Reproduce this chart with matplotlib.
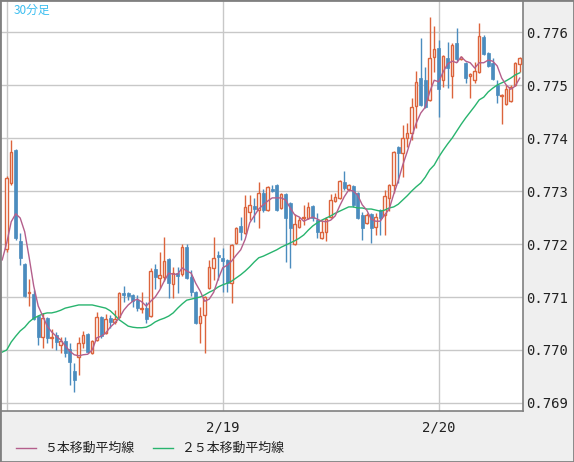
import numpy as np
import matplotlib.pyplot as plt
from matplotlib.lines import Line2D
from matplotlib.patches import Rectangle

# 30-minute candles, index 0 = 2/18 00:00, 48 = 2/19, 96 = 2/20
opens = [0.77191, 0.77315, 0.77377, 0.77206, 0.77162, 0.77108, 0.77106, 0.77064, 0.77025, 0.77060,
         0.77023, 0.77028, 0.77009, 0.77017, 0.77002, 0.76960, 0.76987, 0.77013, 0.77030, 0.76994,
         0.77019, 0.77062, 0.77032, 0.77060, 0.77053, 0.77062, 0.77108, 0.77108, 0.77104, 0.77094,
         0.77077, 0.77079, 0.77064, 0.77153, 0.77136, 0.77138, 0.77172, 0.77125, 0.77145, 0.77143,
         0.77194, 0.77138, 0.77109, 0.77051, 0.77066, 0.77117, 0.77155, 0.77179, 0.77174, 0.77170,
         0.77126, 0.77202, 0.77234, 0.77221, 0.77260, 0.77272, 0.77264, 0.77296, 0.77264, 0.77304,
         0.77311, 0.77268, 0.77294, 0.77277, 0.77200, 0.77232, 0.77249, 0.77249, 0.77272, 0.77245,
         0.77211, 0.77223, 0.77251, 0.77281, 0.77287, 0.77317, 0.77304, 0.77309, 0.77296, 0.77255,
         0.77240, 0.77257, 0.77232, 0.77264, 0.77255, 0.77287, 0.77311, 0.77383, 0.77372, 0.77400,
         0.77409, 0.77460, 0.77513, 0.77509, 0.77472, 0.77553, 0.77570, 0.77509, 0.77551, 0.77517,
         0.77579, 0.77549, 0.77542, 0.77517, 0.77509, 0.77525, 0.77591, 0.77560, 0.77542, 0.77500,
         0.77479, 0.77464, 0.77470, 0.77500, 0.77540]
highs = [0.77328, 0.77396, 0.77379, 0.77221, 0.77164, 0.77134, 0.77113, 0.77066, 0.77070, 0.77062,
         0.77040, 0.77034, 0.77025, 0.77025, 0.77013, 0.76975, 0.77025, 0.77036, 0.77032, 0.77019,
         0.77072, 0.77064, 0.77068, 0.77066, 0.77075, 0.77110, 0.77121, 0.77110, 0.77106, 0.77104,
         0.77109, 0.77091, 0.77155, 0.77162, 0.77185, 0.77213, 0.77174, 0.77157, 0.77157, 0.77200,
         0.77200, 0.77151, 0.77111, 0.77081, 0.77102, 0.77170, 0.77213, 0.77187, 0.77192, 0.77172,
         0.77200, 0.77232, 0.77251, 0.77292, 0.77292, 0.77287, 0.77317, 0.77304, 0.77309, 0.77311,
         0.77313, 0.77296, 0.77296, 0.77279, 0.77257, 0.77251, 0.77274, 0.77279, 0.77274, 0.77258,
         0.77245, 0.77251, 0.77294, 0.77296, 0.77321, 0.77338, 0.77313, 0.77311, 0.77298, 0.77260,
         0.77258, 0.77258, 0.77258, 0.77266, 0.77302, 0.77313, 0.77376, 0.77385, 0.77425, 0.77428,
         0.77475, 0.77526, 0.77589, 0.77534, 0.77628, 0.77611, 0.77585, 0.77557, 0.77581, 0.77579,
         0.77608, 0.77555, 0.77543, 0.77523, 0.77543, 0.77617, 0.77594, 0.77562, 0.77551, 0.77509,
         0.77483, 0.77500, 0.77500, 0.77543, 0.77553]
lows = [0.77185, 0.77311, 0.77208, 0.77160, 0.77100, 0.77083, 0.77057, 0.77009, 0.77004, 0.77013,
        0.77004, 0.77000, 0.76994, 0.76987, 0.76934, 0.76921, 0.76953, 0.77004, 0.76994, 0.76992,
        0.77017, 0.77023, 0.77030, 0.77042, 0.77049, 0.77060, 0.77091, 0.77094, 0.77081, 0.77073,
        0.77070, 0.77051, 0.77062, 0.77115, 0.77117, 0.77130, 0.77098, 0.77098, 0.77108, 0.77140,
        0.77134, 0.77102, 0.77049, 0.77013, 0.76994, 0.77115, 0.77132, 0.77132, 0.77109, 0.77109,
        0.77089, 0.77200, 0.77208, 0.77219, 0.77245, 0.77241, 0.77230, 0.77260, 0.77262, 0.77298,
        0.77262, 0.77266, 0.77166, 0.77155, 0.77198, 0.77230, 0.77236, 0.77247, 0.77243, 0.77211,
        0.77209, 0.77206, 0.77249, 0.77279, 0.77285, 0.77302, 0.77300, 0.77270, 0.77247, 0.77208,
        0.77238, 0.77202, 0.77217, 0.77217, 0.77217, 0.77262, 0.77296, 0.77315, 0.77326, 0.77383,
        0.77396, 0.77419, 0.77460, 0.77456, 0.77470, 0.77525, 0.77440, 0.77496, 0.77494, 0.77475,
        0.77543, 0.77547, 0.77504, 0.77475, 0.77504, 0.77523, 0.77557, 0.77534, 0.77509, 0.77466,
        0.77426, 0.77462, 0.77468, 0.77498, 0.77525]
closes = [0.77325, 0.77374, 0.77211, 0.77174, 0.77102, 0.77110, 0.77058, 0.77025, 0.77060, 0.77023,
          0.77025, 0.77015, 0.77017, 0.76994, 0.76977, 0.76943, 0.77013, 0.77028, 0.76996, 0.77017,
          0.77062, 0.77026, 0.77058, 0.77053, 0.77058, 0.77108, 0.77104, 0.77102, 0.77092, 0.77079,
          0.77079, 0.77058, 0.77149, 0.77138, 0.77142, 0.77168, 0.77126, 0.77145, 0.77140, 0.77194,
          0.77136, 0.77109, 0.77051, 0.77064, 0.77100, 0.77157, 0.77174, 0.77175, 0.77168, 0.77126,
          0.77198, 0.77230, 0.77223, 0.77270, 0.77274, 0.77266, 0.77296, 0.77264, 0.77308, 0.77300,
          0.77264, 0.77294, 0.77249, 0.77230, 0.77238, 0.77245, 0.77251, 0.77270, 0.77249, 0.77223,
          0.77223, 0.77247, 0.77283, 0.77289, 0.77319, 0.77306, 0.77311, 0.77274, 0.77249, 0.77230,
          0.77255, 0.77230, 0.77251, 0.77249, 0.77291, 0.77311, 0.77374, 0.77372, 0.77400, 0.77409,
          0.77458, 0.77506, 0.77462, 0.77458, 0.77551, 0.77568, 0.77492, 0.77555, 0.77532, 0.77575,
          0.77549, 0.77553, 0.77513, 0.77521, 0.77526, 0.77592, 0.77558, 0.77536, 0.77511, 0.77481,
          0.77481, 0.77492, 0.77496, 0.77542, 0.77551]

# moving averages, first value belongs to the bar just before index 0
ma5 = [0.77170, 0.77202, 0.77242, 0.77257, 0.77249, 0.77223, 0.77174, 0.77121, 0.77083, 0.77064,
       0.77045, 0.77034, 0.77026, 0.77019, 0.77008, 0.76998, 0.76991, 0.76989, 0.76991, 0.76992,
       0.77000, 0.77023, 0.77026, 0.77032, 0.77043, 0.77051, 0.77060, 0.77075, 0.77085, 0.77092,
       0.77096, 0.77091, 0.77083, 0.77092, 0.77100, 0.77113, 0.77130, 0.77145, 0.77143, 0.77143,
       0.77155, 0.77149, 0.77145, 0.77126, 0.77111, 0.77092, 0.77096, 0.77109, 0.77134, 0.77155,
       0.77160, 0.77168, 0.77179, 0.77189, 0.77209, 0.77240, 0.77253, 0.77266, 0.77274, 0.77281,
       0.77287, 0.77287, 0.77287, 0.77283, 0.77268, 0.77255, 0.77251, 0.77243, 0.77247, 0.77251,
       0.77247, 0.77243, 0.77242, 0.77245, 0.77253, 0.77272, 0.77289, 0.77302, 0.77300, 0.77292,
       0.77274, 0.77264, 0.77247, 0.77243, 0.77243, 0.77255, 0.77266, 0.77294, 0.77319, 0.77349,
       0.77374, 0.77402, 0.77428, 0.77447, 0.77458, 0.77487, 0.77509, 0.77506, 0.77525, 0.77540,
       0.77545, 0.77542, 0.77553, 0.77545, 0.77542, 0.77532, 0.77542, 0.77542, 0.77547, 0.77545,
       0.77536, 0.77513, 0.77500, 0.77492, 0.77498, 0.77513]
ma25 = [0.76996, 0.77000, 0.77015, 0.77026, 0.77036, 0.77043, 0.77053, 0.77060, 0.77064, 0.77068,
        0.77070, 0.77070, 0.77072, 0.77075, 0.77079, 0.77081, 0.77083, 0.77085, 0.77085, 0.77085,
        0.77085, 0.77083, 0.77081, 0.77079, 0.77074, 0.77066, 0.77057, 0.77051, 0.77045, 0.77043,
        0.77042, 0.77042, 0.77043, 0.77047, 0.77053, 0.77057, 0.77060, 0.77064, 0.77070, 0.77079,
        0.77087, 0.77094, 0.77096, 0.77098, 0.77100, 0.77104, 0.77109, 0.77113, 0.77119, 0.77123,
        0.77126, 0.77130, 0.77136, 0.77142, 0.77149, 0.77157, 0.77166, 0.77174, 0.77177, 0.77181,
        0.77185, 0.77189, 0.77194, 0.77198, 0.77202, 0.77206, 0.77211, 0.77217, 0.77226, 0.77234,
        0.77240, 0.77245, 0.77249, 0.77253, 0.77258, 0.77262, 0.77266, 0.77270, 0.77270, 0.77268,
        0.77268, 0.77266, 0.77266, 0.77264, 0.77262, 0.77264, 0.77268, 0.77270, 0.77275, 0.77283,
        0.77291, 0.77300, 0.77308, 0.77315, 0.77326, 0.77340, 0.77349, 0.77364, 0.77377, 0.77389,
        0.77400, 0.77413, 0.77426, 0.77438, 0.77449, 0.77460, 0.77472, 0.77477, 0.77487, 0.77494,
        0.77500, 0.77504, 0.77508, 0.77513, 0.77519, 0.77523]

day_ticks = [0, 48, 96]
day_labels = ["", "2/19", "2/20"]
price_ticks = [0.769, 0.770, 0.771, 0.772, 0.773, 0.774, 0.775, 0.776]

UP = "#dc643c"
DOWN = "#4b8cbe"
MA5_C = "#b45f8c"
MA25_C = "#28b46e"

plt.rcParams["font.family"] = ["Noto Sans CJK JP", "DejaVu Sans"]

fig = plt.figure(figsize=(5.74, 4.62), dpi=100, facecolor="#efefef")
ax = fig.add_axes([0.0, 51 / 462, 523 / 574, 411 / 462])
ax.set_facecolor("white")

o = np.array(opens)
h = np.array(highs)
l = np.array(lows)
c = np.array(closes)
x = np.arange(len(c))
up = c >= o
dn = ~up

# wicks
ax.vlines(x[up], l[up], h[up], color=UP, lw=1, zorder=3)
ax.vlines(x[dn], l[dn], h[dn], color=DOWN, lw=1, zorder=3)
# bodies
ax.bar(x[up], np.maximum(c[up] - o[up], 0.00001), bottom=o[up], width=0.55,
       facecolor="white", edgecolor=UP, linewidth=1, zorder=4)
ax.bar(x[dn], np.maximum(o[dn] - c[dn], 0.00001), bottom=c[dn], width=0.75,
       facecolor=DOWN, edgecolor=DOWN, linewidth=0.5, zorder=4)

xm = np.arange(-1, len(c))
ax.plot(xm, ma25, color=MA25_C, lw=1, zorder=5)
ax.plot(xm, ma5, color=MA5_C, lw=1, zorder=5)

ax.set_xlim(-1.49, 114.73)
ax.set_ylim(0.768849, 0.776604)

ax.set_yticks(price_ticks)
ax.set_yticklabels(["%.3f" % p for p in price_ticks], family="DejaVu Sans Mono",
                   fontsize=10, color="#222222")
ax.yaxis.tick_right()
ax.set_xticks(day_ticks)
ax.set_xticklabels(day_labels, family="DejaVu Sans Mono", fontsize=10, color="#222222")
ax.tick_params(axis="both", length=0)
ax.tick_params(axis="y", pad=2)
ax.tick_params(axis="x", pad=7)
ax.grid(True, color="#c8c8c8", lw=1)
ax.set_axisbelow(True)
for s in ax.spines.values():
    s.set_color("#808080")
    s.set_linewidth(1.2)

ax.text(14 / 523, 1 - 10 / 411, "30分足", transform=ax.transAxes, color="#3cbef0",
        fontsize=8.5, va="center", ha="left")

# legend row
yl = 1 - 448 / 462
fig.add_artist(Line2D([16 / 574, 36 / 574], [yl, yl], color=MA5_C, lw=1))
fig.text(44 / 574, yl, "５本移動平均線", fontsize=9.3, va="center", color="#222222")
fig.add_artist(Line2D([153 / 574, 173 / 574], [yl, yl], color=MA25_C, lw=1))
fig.text(181 / 574, yl, "２５本移動平均線", fontsize=9.3, va="center", color="#222222")

fig.add_artist(Rectangle((0, 0), 1, 1, transform=fig.transFigure, fill=False,
                         edgecolor="#808080", lw=2))

fig.savefig("out.png", dpi=100, facecolor=fig.get_facecolor())
